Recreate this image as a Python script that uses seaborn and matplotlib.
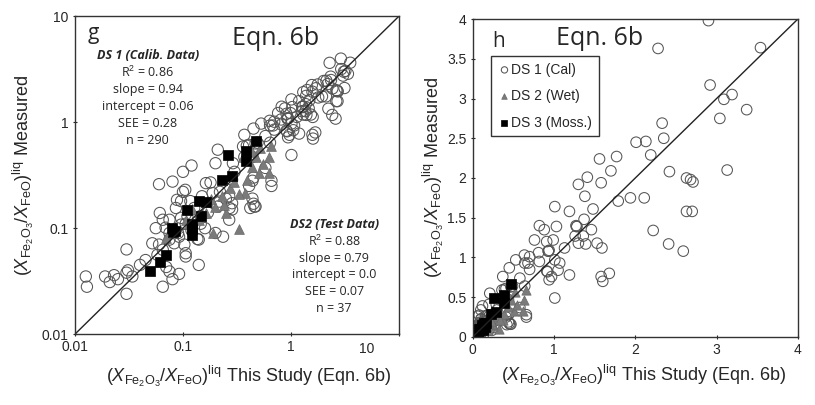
import matplotlib
matplotlib.use("Agg")
import matplotlib.pyplot as plt
import pandas as pd
import seaborn as sns

# DS 1 (calibration data), open circles
ds1_x = [0.0126, 0.0129, 0.019, 0.021, 0.023, 0.030, 0.030, 0.030, 0.034, 0.031, 0.025,
         0.052, 0.058, 0.065, 0.070, 0.075, 0.080, 0.092, 0.103, 0.14, 0.106, 0.080, 0.10,
         0.105, 0.061, 0.065, 0.069, 0.088, 0.117, 0.163, 0.188, 0.127, 0.146, 0.096, 0.146,
         0.106, 0.083, 0.096, 0.136, 0.075, 0.235, 0.268, 0.285, 0.285, 0.268, 0.285, 0.217,
         0.21, 0.44, 0.46, 0.66, 0.44, 0.58, 0.47, 0.36, 0.10, 0.086, 0.096, 0.25, 0.27, 0.42,
         0.44, 0.41, 0.30, 0.20, 0.18, 0.075, 0.075, 0.092, 0.065, 0.106, 0.056, 0.14, 0.16,
         0.20, 0.12, 0.13, 0.17, 0.22, 0.15, 0.11, 0.09, 0.045, 0.04, 0.06,
         2.90, 2.28, 3.54, 2.92, 3.09, 3.19, 3.04, 3.37, 2.33, 2.35, 2.01, 2.13, 2.19, 3.13,
         2.42, 2.63, 2.68, 2.71, 2.63, 2.70, 2.22, 2.41, 2.59, 1.56, 1.77, 1.70, 1.58, 1.30,
         1.41, 1.38, 1.48, 1.79, 1.94, 2.11, 1.01, 1.19, 0.82, 1.03, 1.37, 1.46, 1.36, 1.53,
         1.59, 1.39, 1.30, 1.58, 1.60, 1.68, 1.19, 1.01, 1.01, 1.07, 0.91, 0.97, 0.81, 0.70,
         0.64, 0.53, 0.76, 0.91, 0.88, 0.99, 1.13, 1.26, 0.93, 0.93, 0.94, 1.28, 1.28, 1.27,
         0.37, 0.45, 0.58, 0.70, 0.49, 0.64, 0.47, 0.37, 0.29, 0.21, 0.39, 0.12, 0.06, 0.636,
         0.68, 0.82, 0.92, 1.05, 0.94, 0.41, 0.66, 0.45, 0.45]
ds1_y = [0.035, 0.028, 0.035, 0.031, 0.036, 0.038, 0.024, 0.063, 0.035, 0.040, 0.033,
         0.072, 0.056, 0.028, 0.043, 0.039, 0.033, 0.037, 0.070, 0.045, 0.054, 0.275, 0.34,
         0.23, 0.139, 0.12, 0.101, 0.185, 0.18, 0.266, 0.214, 0.155, 0.13, 0.125, 0.11,
         0.11, 0.072, 0.108, 0.079, 0.090, 0.083, 0.20, 0.172, 0.15, 0.12, 0.286, 0.178,
         0.16, 0.28, 0.16, 0.28, 0.47, 0.37, 0.63, 0.59, 0.22, 0.155, 0.18, 0.19, 0.155, 0.155,
         0.19, 0.25, 0.34, 0.41, 0.27, 0.12, 0.078, 0.083, 0.0625, 0.058, 0.10, 0.078, 0.10,
         0.09, 0.095, 0.12, 0.14, 0.22, 0.20, 0.13, 0.09, 0.05, 0.045, 0.07,
         3.98, 3.63, 3.64, 3.17, 2.99, 3.05, 2.75, 2.86, 2.69, 2.50, 2.45, 2.46, 2.29, 2.10,
         2.08, 2.00, 1.98, 1.95, 1.58, 1.58, 1.34, 1.17, 1.08, 2.24, 2.27, 2.09, 1.94, 1.92,
         2.01, 1.77, 1.61, 1.71, 1.75, 1.75, 1.64, 1.58, 1.40, 1.39, 1.48, 1.35, 1.27, 1.18,
         1.12, 1.17, 1.18, 0.76, 0.70, 0.80, 0.78, 0.49, 0.97, 0.93, 0.83, 0.76, 1.06, 1.01,
         0.93, 0.97, 1.22, 1.20, 1.35, 1.22, 1.12, 1.27, 1.08, 1.08, 1.09, 1.39, 1.39, 1.40,
         0.76, 0.87, 0.74, 0.85, 0.64, 0.64, 0.16, 0.47, 0.41, 0.55, 0.60, 0.39, 0.26, 1.03,
         0.93, 0.95, 0.82, 0.84, 0.72, 0.61, 0.25, 0.30, 0.17]

# DS 2 (test / wet data), grey triangles
ds2_x = [0.327, 0.25, 0.24, 0.376, 0.39, 0.51, 0.63, 0.65, 0.52, 0.44, 0.62, 0.285, 0.27,
         0.19, 0.163, 0.20, 0.14, 0.106, 0.086, 0.36, 0.47, 0.44, 0.12, 0.07, 0.30, 0.55,
         0.33, 0.18, 0.23]
ds2_y = [0.098, 0.139, 0.166, 0.214, 0.286, 0.33, 0.47, 0.59, 0.57, 0.52, 0.33, 0.31, 0.24,
         0.09, 0.14, 0.16, 0.12, 0.12, 0.10, 0.47, 0.47, 0.38, 0.15, 0.08, 0.27, 0.40,
         0.21, 0.19, 0.20]

# DS 3 (Mossbauer), black squares
ds3_x = [0.050, 0.061, 0.070, 0.079, 0.080, 0.11, 0.122, 0.122, 0.147, 0.142, 0.164,
         0.23, 0.285, 0.264, 0.38, 0.38, 0.47, 0.12, 0.085]
ds3_y = [0.039, 0.048, 0.056, 0.10, 0.092, 0.149, 0.099, 0.086, 0.13, 0.18, 0.178,
         0.285, 0.31, 0.49, 0.53, 0.43, 0.67, 0.11, 0.095]

ds1_stats = ["R$^2$ = 0.86", "slope = 0.94", "intercept = 0.06", "SEE = 0.28", "n = 290"]
ds2_stats = ["R$^2$ = 0.88", "slope = 0.79", "intercept = 0.0", "SEE = 0.07", "n = 37"]

df1 = pd.DataFrame({"x": ds1_x, "y": ds1_y})
df2 = pd.DataFrame({"x": ds2_x, "y": ds2_y})
df3 = pd.DataFrame({"x": ds3_x, "y": ds3_y})

sns.set_style("ticks")
plt.rcParams["font.family"] = ["Liberation Sans", "DejaVu Sans"]
plt.rcParams["mathtext.fontset"] = "custom"
plt.rcParams["mathtext.rm"] = "Liberation Sans"
plt.rcParams["mathtext.it"] = "Liberation Sans:italic"
plt.rcParams["axes.linewidth"] = 1.0

ratio = r"$(X_{\mathrm{Fe_2O_3}}/X_{\mathrm{FeO}})^{\mathrm{liq}}$"
xlab = ratio + " This Study (Eqn. 6b)"
ylab = ratio + " Measured"
humanist = ["Open Sans", "DejaVu Sans"]

fig = plt.figure(figsize=(8.15, 4.05), dpi=100)
ax1 = fig.add_axes([0.092, 0.175, 0.3975, 0.785])
ax2 = fig.add_axes([0.580, 0.168, 0.399, 0.785])

circ = dict(marker="o", facecolor="none", edgecolor="#555555", linewidth=0.75)
tri = dict(marker="^", color="#7a7a7a", edgecolor="#6a6a6a", linewidth=0.5)
sq = dict(marker="s", color="black", edgecolor="black", linewidth=0.5)

for ax, s1, s2, s3 in [(ax1, 66, 50, 62), (ax2, 58, 45, 55)]:
    sns.scatterplot(data=df1, x="x", y="y", ax=ax, s=s1, label="DS 1 (Cal)", **circ)
    sns.scatterplot(data=df2, x="x", y="y", ax=ax, s=s2, label="DS 2 (Wet)", **tri)
    sns.scatterplot(data=df3, x="x", y="y", ax=ax, s=s3, label="DS 3 (Moss.)", **sq)

# panel g, log-log
ax1.set_xscale("log")
ax1.set_yscale("log")
ax1.plot([0.01, 10], [0.01, 10], color="#222222", lw=1.0, zorder=1)
ax1.set_xlim(0.01, 10)
ax1.set_ylim(0.01, 10)
ax1.set_xticks([0.01, 0.1, 1, 10])
ax1.set_xticklabels(["0.01", "0.1", "1", ""])
ax1.set_yticks([0.01, 0.1, 1, 10])
ax1.set_yticklabels(["0.01", "0.1", "1", "10"])
ax1.minorticks_off()
ax1.text(10 ** 0.70, 0.0072, "10", fontsize=10, ha="center", va="center")
ax1.legend_.remove()
ax1.set_xlabel(xlab, fontsize=13, labelpad=7, x=0.535)
ax1.set_ylabel(ylab, fontsize=13, labelpad=4)
ax1.text(0.04, 0.945, "g", transform=ax1.transAxes, fontsize=15, va="center",
         family=humanist)
ax1.text(0.62, 0.93, "Eqn. 6b", transform=ax1.transAxes, fontsize=18, ha="center",
         va="center", family=humanist)
ax1.text(0.225, 0.875, "DS 1 (Calib. Data)", transform=ax1.transAxes, fontsize=9,
         ha="center", va="center", style="italic", weight="bold", family=humanist)
for i, t in enumerate(ds1_stats):
    ax1.text(0.225, 0.822 - i * 0.053, t, transform=ax1.transAxes, fontsize=9,
             ha="center", va="center", family=humanist)
ax1.text(0.80, 0.345, "DS2 (Test Data)", transform=ax1.transAxes, fontsize=9,
         ha="center", va="center", style="italic", weight="bold", family=humanist)
for i, t in enumerate(ds2_stats):
    ax1.text(0.80, 0.292 - i * 0.053, t, transform=ax1.transAxes, fontsize=9,
             ha="center", va="center", family=humanist)

# panel h, linear
ax2.plot([0, 4], [0, 4], color="#222222", lw=1.0, zorder=1)
ax2.set_xlim(0, 4)
ax2.set_ylim(0, 4)
ax2.set_xticks([0, 1, 2, 3, 4])
ax2.set_yticks([0, 0.5, 1, 1.5, 2, 2.5, 3, 3.5, 4])
ax2.set_yticklabels(["0", "0.5", "1", "1.5", "2", "2.5", "3", "3.5", "4"])
ax2.set_xlabel(xlab, fontsize=13, labelpad=4, x=0.525)
ax2.set_ylabel(ylab, fontsize=13, labelpad=1)
ax2.text(0.06, 0.93, "h", transform=ax2.transAxes, fontsize=15, va="center",
         family=humanist)
ax2.text(0.39, 0.94, "Eqn. 6b", transform=ax2.transAxes, fontsize=18, ha="center",
         va="center", family=humanist)
leg = ax2.legend(loc="upper left", bbox_to_anchor=(0.055, 0.885), fontsize=10,
                 frameon=True, fancybox=False, edgecolor="black", handletextpad=0.0,
                 handlelength=1.0, borderpad=0.5, labelspacing=0.9, markerscale=0.6,
                 borderaxespad=0)
leg.get_frame().set_linewidth(1.0)

for ax in (ax1, ax2):
    ax.tick_params(axis="both", labelsize=10, length=3, width=0.8, direction="inout",
                   pad=3)
    for sp in ax.spines.values():
        sp.set_visible(True)
        sp.set_color("#333333")

fig.savefig("out.png", dpi=100)
